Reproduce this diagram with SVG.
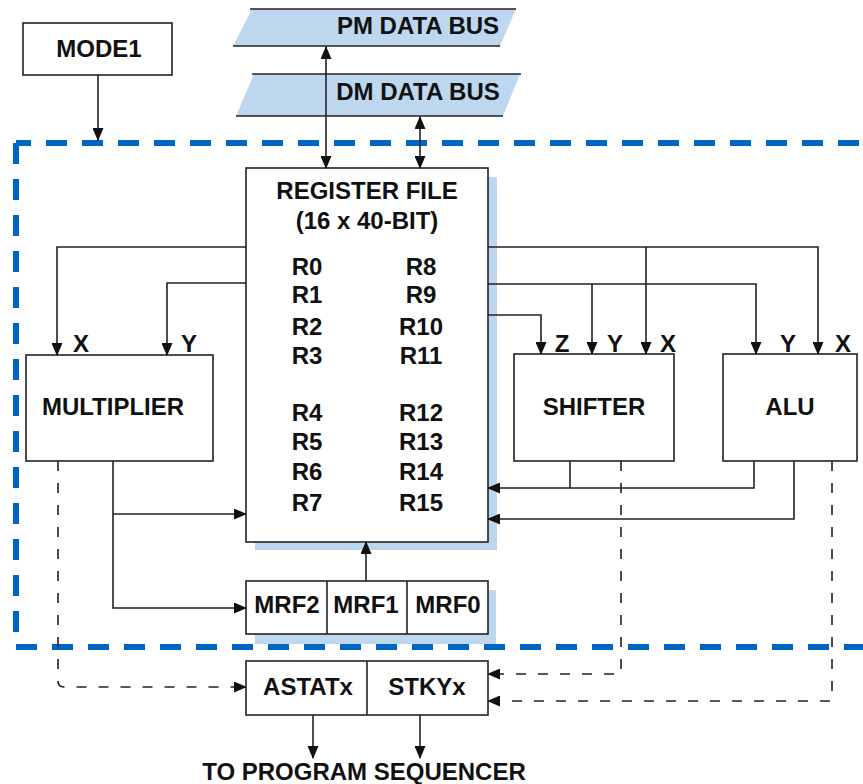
<svg xmlns="http://www.w3.org/2000/svg" width="863" height="784" viewBox="0 0 863 784">
<defs>
<marker id="ah" markerUnits="userSpaceOnUse" markerWidth="13" markerHeight="11" refX="12" refY="5.5" orient="auto-start-reverse" viewBox="0 0 13 11">
<path d="M0,0 L13,5.5 L0,11 z" fill="#111"/>
</marker>
</defs>
<style>
text{font-family:"Liberation Sans",Arial,sans-serif;font-weight:bold;font-size:24px;fill:#111;text-anchor:middle}
.box{fill:#fff;stroke:#222;stroke-width:1.6}
.shadow{fill:#BDD7EE}
.bus{fill:#BDD7EE}
.busline{stroke:#222;stroke-width:1.6;fill:none}
.c{fill:none;stroke:#222;stroke-width:1.6}
.d{fill:none;stroke:#222;stroke-width:1.6;stroke-dasharray:10 12}
.arr{marker-end:url(#ah)}
.arr2{marker-start:url(#ah);marker-end:url(#ah)}
.border{fill:none;stroke:#0066C4;stroke-width:6;stroke-dasharray:21 15}
</style>
<g id="boundary">
<path class="border" d="M16,143 H870" stroke-dashoffset="6"/>
<path class="border" d="M16,143 V647"/>
<path class="border" d="M16,647 H870"/>
</g>
<g id="mode1">
<rect class="box" x="23" y="23" width="149" height="52"/>
<text x="99" y="57">MODE1</text>
</g>
<g id="pm-bus">
<polygon class="bus" points="252,9 516,9 500,46 233,46"/>
<path class="busline" d="M250,9 H516 M233,46 H500"/>
<text x="418" y="34">PM DATA BUS</text>
</g>
<g id="dm-bus">
<polygon class="bus" points="254,74 520,74 503,116 236,116"/>
<path class="busline" d="M252,74 H521 M236,116 H503"/>
<text x="418" y="100">DM DATA BUS</text>
</g>
<g id="register-file">
<rect class="shadow" x="255" y="177" width="242" height="373"/>
<rect class="box" x="246" y="168" width="242" height="374"/>
<text x="367" y="199">REGISTER FILE</text>
<text x="367" y="229">(16 x 40-BIT)</text>
<text x="307" y="275">R0</text><text x="421" y="275">R8</text>
<text x="307" y="303">R1</text><text x="421" y="303">R9</text>
<text x="307" y="335">R2</text><text x="421" y="335">R10</text>
<text x="307" y="364">R3</text><text x="421" y="364">R11</text>
<text x="307" y="421">R4</text><text x="421" y="421">R12</text>
<text x="307" y="450">R5</text><text x="421" y="450">R13</text>
<text x="307" y="480">R6</text><text x="421" y="480">R14</text>
<text x="307" y="511">R7</text><text x="421" y="511">R15</text>
</g>
<g id="multiplier">
<rect class="box" x="26" y="355" width="187" height="106"/>
<text x="113" y="415">MULTIPLIER</text>
<text x="81" y="352">X</text>
<text x="189" y="352">Y</text>
</g>
<g id="shifter">
<rect class="box" x="514" y="354" width="160" height="107"/>
<text x="594" y="415">SHIFTER</text>
<text x="562" y="352">Z</text>
<text x="615" y="352">Y</text>
<text x="668" y="352">X</text>
</g>
<g id="alu">
<rect class="box" x="723" y="354" width="134" height="107"/>
<text x="790" y="415">ALU</text>
<text x="788" y="352">Y</text>
<text x="843" y="352">X</text>
</g>
<g id="mrf">
<rect class="shadow" x="255" y="590" width="241" height="54"/>
<rect class="box" x="246" y="581" width="242" height="53"/>
<path class="c" d="M327,581 V634 M407,581 V634"/>
<text x="287" y="613">MRF2</text>
<text x="366" y="613">MRF1</text>
<text x="448" y="613">MRF0</text>
</g>
<g id="astat-stky">
<rect class="box" x="246" y="661" width="242" height="54"/>
<path class="c" d="M367,661 V715"/>
<text x="308" y="695">ASTATx</text>
<text x="427" y="695">STKYx</text>
</g>
<g id="to-sequencer">
<text x="364" y="780">TO PROGRAM SEQUENCER</text>
</g>
<g id="connectors">
<path class="c arr" d="M98,75 V140"/>
<path class="c arr2" d="M326,47 V168"/>
<path class="c arr2" d="M420,117 V168"/>
<path class="c arr" d="M246,247 H57 V355"/>
<path class="c arr" d="M246,283 H167 V355"/>
<path class="c arr" d="M488,247 H818 V354"/>
<path class="c arr" d="M646,247 V354"/>
<path class="c arr" d="M488,284 H756 V354"/>
<path class="c arr" d="M592,284 V354"/>
<path class="c arr" d="M488,315 H541 V354"/>
<path class="c arr" d="M113,461 V608 H246"/>
<path class="c arr" d="M113,514 H246"/>
<path class="c arr" d="M366,581 V542"/>
<path class="c" d="M570,461 V488"/>
<path class="c arr" d="M754,461 V488 H488"/>
<path class="c arr" d="M794,461 V519 H488"/>
<path class="d arr" d="M58,461 V681 Q58,687 64,687 H246"/>
<path class="d arr" d="M621,461 V674 H488"/>
<path class="d arr" d="M832,461 V701 H488"/>
<path class="c arr" d="M313,715 V758"/>
<path class="c arr" d="M420,715 V758"/>
</g>
</svg>
